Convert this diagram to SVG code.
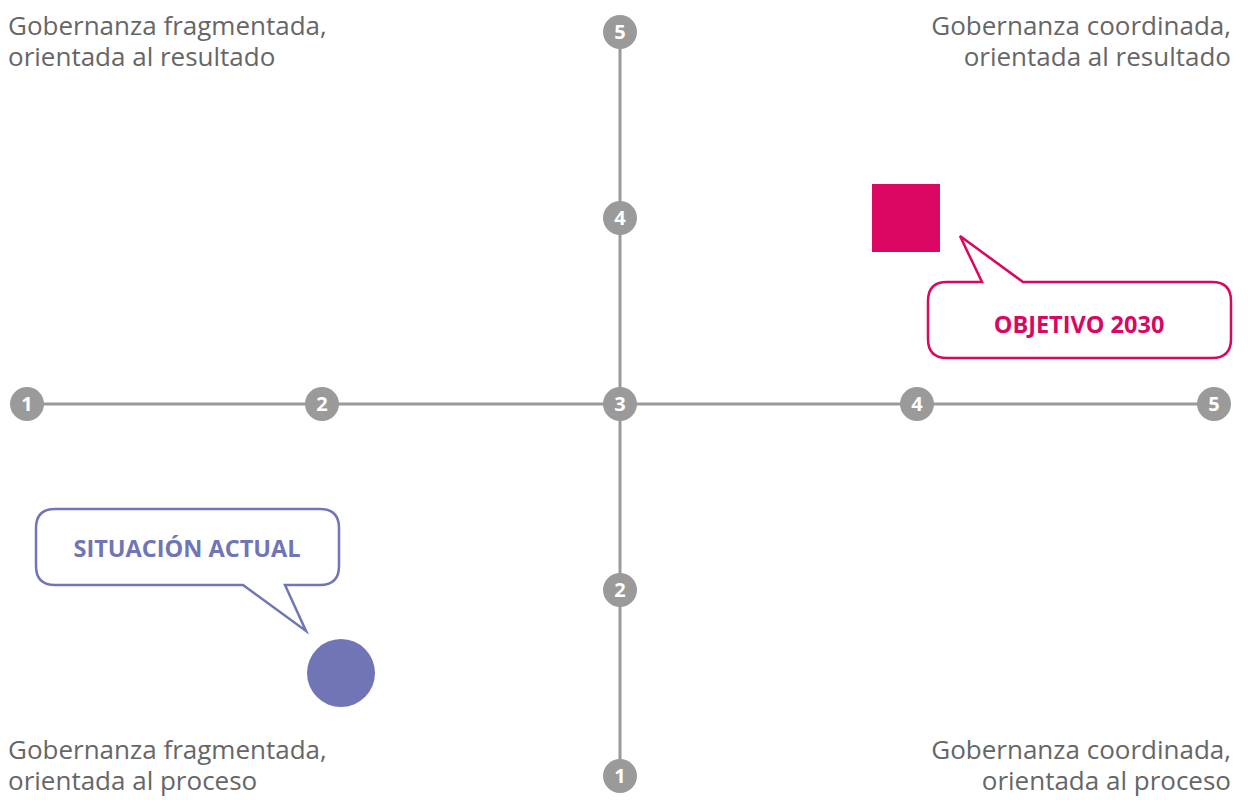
<svg xmlns="http://www.w3.org/2000/svg" width="1248" height="800" viewBox="0 0 1248 800">
<style>
.axis{stroke:#9a9a9a;stroke-width:3;fill:none}
.tick{fill:#9a9a9a}
.num{font-family:"Open Sans","Liberation Sans",sans-serif;font-weight:bold;font-size:20px;fill:#fff;text-anchor:middle}
.corner{font-family:"Open Sans","Liberation Sans",sans-serif;font-size:26px;fill:#666}
.r{text-anchor:end}
.lbl{font-family:"Open Sans","Liberation Sans",sans-serif;font-weight:bold;font-size:23.5px;text-anchor:middle}
</style>
<rect width="1248" height="800" fill="#fff"/>
<g id="connectors">
<line class="axis" x1="27" y1="404" x2="1214" y2="404"/>
<line class="axis" x1="620" y1="32" x2="620" y2="776"/>
</g>
<g id="x-axis-ticks">
<circle class="tick" cx="27" cy="404" r="17"/><text class="num" x="27" y="411">1</text>
<circle class="tick" cx="322" cy="404" r="17"/><text class="num" x="322" y="411">2</text>
<circle class="tick" cx="917" cy="404" r="17"/><text class="num" x="917" y="411">4</text>
<circle class="tick" cx="1214" cy="404" r="17"/><text class="num" x="1214" y="411">5</text>
</g>
<g id="y-axis-ticks">
<circle class="tick" cx="620" cy="32" r="17"/><text class="num" x="620" y="39">5</text>
<circle class="tick" cx="620" cy="218" r="17"/><text class="num" x="620" y="225">4</text>
<circle class="tick" cx="620" cy="404" r="17"/><text class="num" x="620" y="411">3</text>
<circle class="tick" cx="620" cy="590" r="17"/><text class="num" x="620" y="597">2</text>
<circle class="tick" cx="620" cy="776" r="17"/><text class="num" x="620" y="783">1</text>
</g>
<g id="corner-tl"><text class="corner" x="8" y="35">Gobernanza fragmentada,</text><text class="corner" x="8" y="66">orientada al resultado</text></g>
<g id="corner-tr"><text class="corner r" x="1231" y="35">Gobernanza coordinada,</text><text class="corner r" x="1231" y="66">orientada al resultado</text></g>
<g id="corner-bl"><text class="corner" x="8" y="759">Gobernanza fragmentada,</text><text class="corner" x="8" y="790">orientada al proceso</text></g>
<g id="corner-br"><text class="corner r" x="1231" y="759">Gobernanza coordinada,</text><text class="corner r" x="1231" y="790">orientada al proceso</text></g>
<g id="objetivo">
<rect x="872" y="184" width="68" height="68" fill="#db0662"/>
<path d="M947 282 L982 282 L960 236 L1023 282 L1212 282 Q1231 282 1231 301 L1231 339 Q1231 358 1212 358 L947 358 Q928 358 928 339 L928 301 Q928 282 947 282 Z" fill="#fff" stroke="#db0662" stroke-width="2.5" stroke-linejoin="miter"/>
<text class="lbl" x="1079" y="333" fill="#db0662">OBJETIVO 2030</text>
</g>
<g id="situacion">
<circle cx="341" cy="673" r="34" fill="#7075b5"/>
<path d="M55 509 L320 509 Q339 509 339 528 L339 566 Q339 585 320 585 L285 585 L306 631 L243 585 L55 585 Q36 585 36 566 L36 528 Q36 509 55 509 Z" fill="#fff" stroke="#7075b5" stroke-width="2.5"/>
<text class="lbl" x="187" y="557" fill="#7075b5">SITUACIÓN ACTUAL</text>
</g>
</svg>
